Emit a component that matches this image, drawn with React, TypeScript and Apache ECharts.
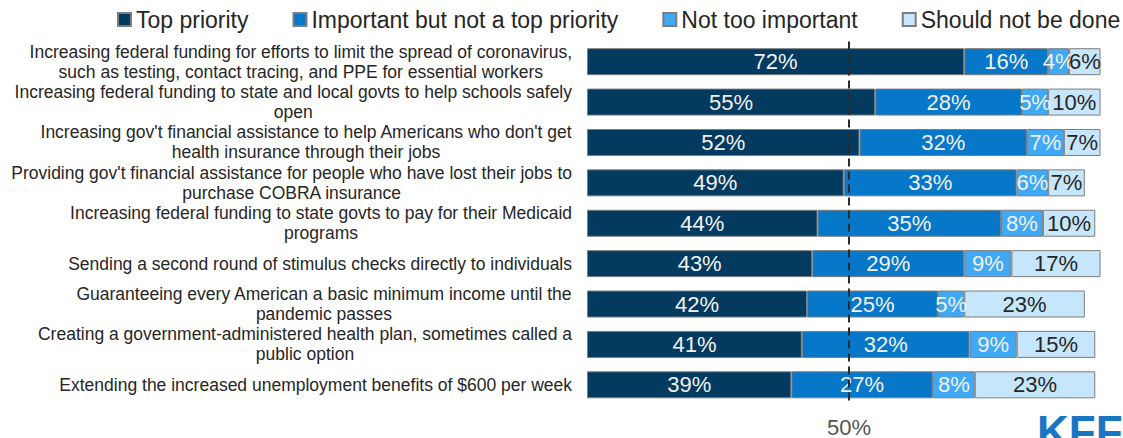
import React, { useEffect, useRef } from "react";
import * as echarts from "echarts";

const categories = [
  "Increasing federal funding for efforts to limit the spread of coronavirus,\nsuch as testing, contact tracing, and PPE for essential workers",
  "Increasing federal funding to state and local govts to help schools safely\nopen",
  "Increasing gov't financial assistance to help Americans who don't get\nhealth insurance through their jobs",
  "Providing gov't financial assistance for people who have lost their jobs to\npurchase COBRA insurance",
  "Increasing federal funding to state govts to pay for their Medicaid\nprograms",
  "Sending a second round of stimulus checks directly to individuals",
  "Guaranteeing every American a basic minimum income until the\npandemic passes",
  "Creating a government-administered health plan, sometimes called a\npublic option",
  "Extending the increased unemployment benefits of $600 per week",
];

const seriesNames = [
  "Top priority",
  "Important but not a top priority",
  "Not too important",
  "Should not be done",
];

const topPriority = [72, 55, 52, 49, 44, 43, 42, 41, 39];
const importantNotTop = [16, 28, 32, 33, 35, 29, 25, 32, 27];
const notTooImportant = [4, 5, 7, 6, 8, 9, 5, 9, 8];
const shouldNotBeDone = [6, 10, 7, 7, 10, 17, 23, 15, 23];

const referenceLine = 50;

const colors = ["#033a60", "#0677c9", "#3fa9f5", "#c6e6fc"];
const labelColors = ["#f2f2f2", "#f2f2f2", "#f2f2f2", "#262626"];

const FONT = "'Liberation Sans', Arial, sans-serif";

export default function App() {
  const ref = useRef<HTMLDivElement>(null);

  useEffect(() => {
    if (!ref.current) return;
    const chart = echarts.init(ref.current, undefined, { renderer: "svg" });
    const values = [topPriority, importantNotTop, notTooImportant, shouldNotBeDone];

    const series: any[] = values.map((data, i) => ({
      name: seriesNames[i],
      type: "bar",
      stack: "total",
      barWidth: 27,
      data,
      itemStyle: { color: colors[i], borderColor: "#7d7d7d", borderWidth: 1 },
      label: {
        show: true,
        position: "inside",
        formatter: "{c}%",
        color: labelColors[i],
        fontSize: 22,
        fontFamily: FONT,
      },
      emphasis: { disabled: true },
    }));

    series[3].markLine = {
      silent: true,
      symbol: "none",
      z: 10,
      label: { show: false },
      lineStyle: { color: "#2b2b2b", width: 2, type: [8, 5] },
      data: [{ xAxis: referenceLine }],
    };

    chart.setOption({
      animation: false,
      textStyle: { fontFamily: FONT },
      legend: {
        left: 117,
        top: 8,
        width: 1006,
        padding: 0,
        itemGap: 44,
        itemWidth: 13,
        itemHeight: 13,
        icon: "rect",
        textStyle: { fontSize: 23, color: "#262626", fontFamily: FONT },
        data: seriesNames,
      },
      grid: { left: 587, right: 12, top: 41.5, bottom: 28.5, containLabel: false },
      xAxis: {
        type: "value",
        min: 0,
        max: 100,
        interval: 50,
        axisLine: { show: false },
        axisTick: { show: false },
        splitLine: { show: false },
        axisLabel: {
          margin: 11,
          fontSize: 22,
          color: "#555555",
          fontFamily: FONT,
          formatter: (v: number) => (v === referenceLine ? v + "%" : ""),
        },
      },
      yAxis: {
        type: "category",
        inverse: true,
        data: categories,
        axisLine: { show: false },
        axisTick: { show: false },
        axisLabel: {
          margin: 15,
          fontSize: 17.5,
          lineHeight: 20,
          color: "#262626",
          fontFamily: FONT,
          formatter: (v: string) =>
            v
              .split("\n")
              .map((l) => "{c|" + l + "}")
              .join("\n"),
          rich: {
            c: { align: "center", fontSize: 17.5, lineHeight: 20, color: "#262626", fontFamily: FONT },
          },
        },
      },
      graphic: [
        {
          type: "text",
          left: 1037,
          top: 409,
          style: {
            text: "KFF",
            fill: "#1a76c2",
            fontSize: 44,
            fontWeight: 900,
            fontFamily: FONT,
          },
        },
      ],
      series,
    });

    return () => chart.dispose();
  }, []);

  return (
    <div
      ref={ref}
      style={{ position: "fixed", left: 0, top: 0, width: 1123, height: 438, background: "#fff" }}
    />
  );
}
